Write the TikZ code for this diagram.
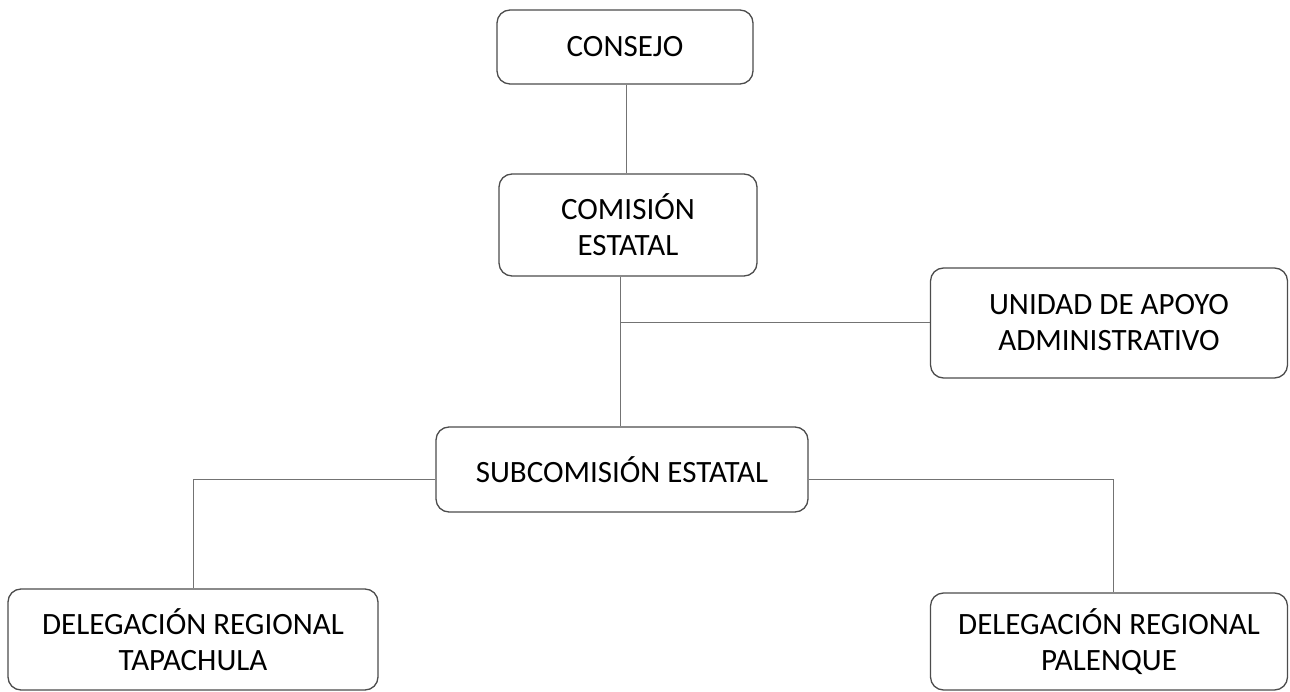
\documentclass[tikz,border=0pt]{standalone}
\usepackage{fontspec}
\setmainfont{Carlito}
\begin{document}
\begin{tikzpicture}[x=1pt,y=-1pt,
		caja/.style={draw=black!70,line width=1.3pt,rounded corners=13pt,align=center,inner sep=0pt,font=\fontsize{31}{36}\selectfont},
		linea/.style={draw=black!55,line width=1pt}]
				\useasboundingbox (0,0) rectangle (1290,692);
				\node[caja,minimum width=256,minimum height=74] (consejo) at (625,47) {CONSEJO};
				\node[caja,minimum width=258,minimum height=102] (comision) at (628,225) {COMISIÓN\\ESTATAL};
				\node[caja,minimum width=357,minimum height=110] (unidad) at (1109,323) {UNIDAD DE APOYO\\ADMINISTRATIVO};
				\node[caja,minimum width=372,minimum height=85] (subcom) at (622,469.5) {SUBCOMISIÓN ESTATAL};
				\node[caja,minimum width=370,minimum height=101] (tapachula) at (193,639.5) {DELEGACIÓN REGIONAL\\TAPACHULA};
				\node[caja,minimum width=357,minimum height=97] (palenque) at (1109,641.5) {DELEGACIÓN REGIONAL\\PALENQUE};
				\coordinate (union) at (620,323);
				\coordinate (izq) at (193,479);
				\coordinate (der) at (1113,479);
				\draw[linea] (consejo.south) ++(1,0) coordinate (c1) -- (c1 |- comision.north);
				\draw[linea] (union |- comision.south) -- (union |- subcom.north);
				\draw[linea] (union) -- (unidad.west);
				\draw[linea] (izq -| subcom.west) -- (izq) -- (tapachula.north);
				\draw[linea] (der -| subcom.east) -- (der) -- (der |- palenque.north);
			\end{tikzpicture}
\end{document}
